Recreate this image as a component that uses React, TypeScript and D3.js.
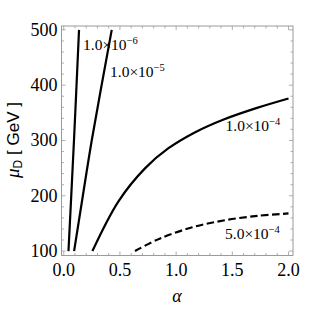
import React from 'react';
import * as d3 from 'd3';

// curve values: alpha vs mu_D (GeV)
const alpha1e6 = [0.042, 0.091, 0.136];
const mu1e6 = [100, 300, 500];
const alpha1e5 = [0.092, 0.17, 0.249, 0.427];
const mu1e5 = [100, 200, 300, 500];
const alpha1e4 = [0.255, 0.487, 0.725, 0.932, 1.17, 1.423, 1.72, 2.0];
const mu1e4 = [100, 190, 250, 286, 315, 338, 359, 376];
const alpha5e4 = [0.634, 0.847, 1.144, 1.44, 1.736, 2.0];
const mu5e4 = [100, 122, 143, 156, 164, 168];

const xTicks = [0, 0.5, 1, 1.5, 2];
const yTicks = [100, 200, 300, 400, 500];

const W = 319, H = 309;
const left = 61.5, right = 293, top = 26, bottom = 255.5;

const serif = '"Liberation Serif", "DejaVu Serif", serif';
const sans = '"Liberation Sans", Arial, sans-serif';

export default function App() {
  const x = d3.scaleLinear().domain([-0.02, 2.04]).range([left, right]);
  const y = d3.scaleLinear().domain([92, 507]).range([bottom, top]);

  const line = d3.line<[number, number]>()
    .x(d => x(d[0]))
    .y(d => y(d[1]))
    .curve(d3.curveCatmullRom);

  const pts = (a: number[], m: number[]) => a.map((v, i) => [v, m[i]] as [number, number]);

  const frame = '#9a9a9a';
  const xMinor = d3.range(0, 2.01, 0.1);
  const yMinor = d3.range(100, 501, 20);

  const label = (lx: number, ly: number, mant: string, exp: string) => (
    <text x={lx} y={ly} fontFamily={serif} fontSize={15.5}>
      {mant}×10<tspan dy={-6} fontSize={10.5}>{'−' + exp}</tspan>
    </text>
  );

  return (
    <svg width={W} height={H} style={{ position: 'absolute', left: 0, top: 0 }}>
      <rect x={0} y={0} width={W} height={H} fill="#fff" />
      {/* ticks */}
      {xMinor.map((t, i) => {
        const major = Math.abs(t * 2 - Math.round(t * 2)) < 1e-6;
        const len = major ? 4 : 2.5;
        return (
          <g key={'xt' + i} stroke={frame} strokeWidth={0.8}>
            <line x1={x(t)} x2={x(t)} y1={bottom} y2={bottom - len} />
            <line x1={x(t)} x2={x(t)} y1={top} y2={top + len} />
          </g>
        );
      })}
      {yMinor.map((t, i) => {
        const major = t % 100 === 0;
        const len = major ? 4 : 2.5;
        return (
          <g key={'yt' + i} stroke={frame} strokeWidth={0.8}>
            <line x1={left} x2={left + len} y1={y(t)} y2={y(t)} />
            <line x1={right} x2={right - len} y1={y(t)} y2={y(t)} />
          </g>
        );
      })}
      <rect x={left} y={top} width={right - left} height={bottom - top} fill="none" stroke={frame} strokeWidth={1} />

      {/* tick labels */}
      {xTicks.map(t => (
        <text key={'xl' + t} x={x(t)} y={bottom + 20} textAnchor="middle" fontFamily={serif} fontSize={18}>
          {t.toFixed(1)}
        </text>
      ))}
      {yTicks.map(t => (
        <text key={'yl' + t} x={left - 4} y={y(t) + 6} textAnchor="end" fontFamily={serif} fontSize={18}>
          {t}
        </text>
      ))}

      {/* curves */}
      <g fill="none" stroke="#000" strokeWidth={2.2}>
        <path d={line(pts(alpha1e6, mu1e6)) || ''} />
        <path d={line(pts(alpha1e5, mu1e5)) || ''} />
        <path d={line(pts(alpha1e4, mu1e4)) || ''} />
        <path d={line(pts(alpha5e4, mu5e4)) || ''} strokeDasharray="7.5,3.5" />
      </g>

      {label(83, 50, '1.0', '6')}
      {label(110, 77, '1.0', '5')}
      {label(225.5, 131, '1.0', '4')}
      {label(225, 239, '5.0', '4')}

      {/* axis titles */}
      <text x={177} y={302} textAnchor="middle" fontFamily={serif} fontStyle="italic" fontSize={18}>α</text>
      <text transform="translate(19,140) rotate(-90)" textAnchor="middle" fontSize={17}>
        <tspan fontFamily={serif} fontStyle="italic" fontSize={19}>μ</tspan>
        <tspan fontFamily={sans} fontSize={12} dy={3}>D</tspan>
        <tspan fontFamily={sans} dy={-3}> [ GeV ]</tspan>
      </text>
    </svg>
  );
}
